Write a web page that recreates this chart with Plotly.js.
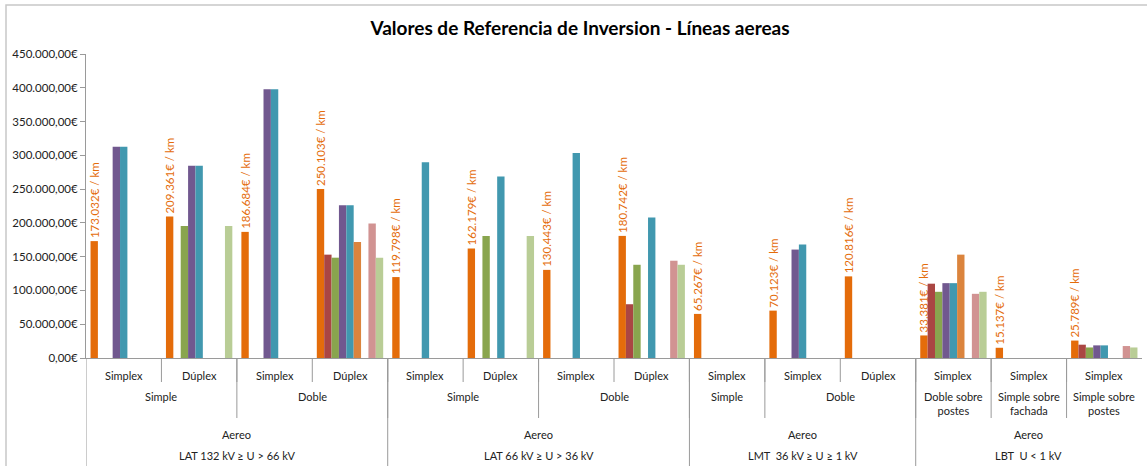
<!DOCTYPE html>
<html>
<head>
<meta charset="utf-8">
<script src="https://cdn.plot.ly/plotly-3.0.1.min.js"></script>
<style>
	html, body { margin: 0; padding: 0; background: #fff; }
	#chart { width: 1147px; height: 466px; }
</style>
</head>
<body>
<div id="chart"></div>
<script>
// leaf categories (bottom row) and their parent levels
const conductor = ["Simplex", "Dúplex", "Simplex", "Dúplex", "Simplex", "Dúplex", "Simplex", "Dúplex", "Simplex", "Simplex", "Dúplex", "Simplex", "Simplex", "Simplex"];
const circuito = ["Simple", "Simple", "Doble", "Doble", "Simple", "Simple", "Doble", "Doble", "Simple", "Doble", "Doble", "Doble sobre<br>postes", "Simple sobre<br>fachada", "Simple sobre<br>postes"];
const tipoLinea = ["Aereo", "Aereo", "Aereo", "Aereo", "Aereo", "Aereo", "Aereo", "Aereo", "Aereo", "Aereo", "Aereo", "Aereo", "Aereo", "Aereo"];
const tension = [
	"LAT 132 kV ≥ U &gt; 66 kV", "LAT 132 kV ≥ U &gt; 66 kV", "LAT 132 kV ≥ U &gt; 66 kV", "LAT 132 kV ≥ U &gt; 66 kV",
	"LAT 66 kV ≥ U &gt; 36 kV", "LAT 66 kV ≥ U &gt; 36 kV", "LAT 66 kV ≥ U &gt; 36 kV", "LAT 66 kV ≥ U &gt; 36 kV",
	"LMT\u00a0 36 kV ≥ U ≥ 1 kV", "LMT\u00a0 36 kV ≥ U ≥ 1 kV", "LMT\u00a0 36 kV ≥ U ≥ 1 kV",
	"LBT\u00a0 U &lt; 1 kV", "LBT\u00a0 U &lt; 1 kV", "LBT\u00a0 U &lt; 1 kV"
];

// series values (€/km), null = no bar
const serie1 = [173032, 209361, 186684, 250103, 119798, 162179, 130443, 180742, 65267, 70123, 120816, 33381, 15137, 25789];
const serie2 = [null, null, null, 153000, null, null, null, 79600, null, null, null, 110000, null, 19700];
const serie3 = [null, 195400, null, 148500, null, 180600, null, 138000, null, null, null, 98000, null, 15600];
const serie4 = [312700, 284500, 398000, 226000, null, null, null, null, null, 160500, null, 110800, null, 18700];
const serie5 = [312700, 284500, 398000, 226000, 289600, 268800, 303400, 208000, null, 168000, null, 110800, null, 18700];
const serie6 = [null, null, null, 171700, null, null, null, null, null, null, null, 153000, null, null];
const serie7 = [null, null, null, null, null, null, null, null, null, null, null, null, null, null];
const serie8 = [null, null, null, 199000, null, null, null, 144000, null, null, null, 95000, null, 17700];
const serie9 = [null, 195400, null, 148500, null, 180600, null, 138000, null, null, null, 98000, null, 15600];

const colores = ["#E46C0A", "#AA4643", "#89A54E", "#71588F", "#4198AF", "#DB843D", "#93A9CF", "#D19392", "#B9CD96"];
const series = [serie1, serie2, serie3, serie4, serie5, serie6, serie7, serie8, serie9];

const W = 1147, H = 466;
const m = { l: 86, r: 5, t: 54, b: 108 };
const plotH = H - m.t - m.b;
const plotW = W - m.l - m.r;
const py = p => (H - m.b - p) / plotH;   // pixel row -> paper y
const pxx = p => (p - m.l) / plotW;      // pixel col -> paper x

const font = "Lato, 'Open Sans', sans-serif";
const xs = conductor.map((_, i) => i);
const miles = v => String(v).replace(/\B(?=(\d{3})+(?!\d))/g, ".");

const traces = series.map((vals, k) => {
	const t = {
		x: xs,
		y: vals,
		type: "bar",
		name: "Serie " + (k + 1),
		marker: { color: colores[k] },
		hoverinfo: "y"
	};
	if (k === 0) {
		t.text = vals.map(v => miles(v) + "€ / km");
		t.textposition = "outside";
		t.textangle = -90;
		t.constraintext = "none";
		t.cliponaxis = false;
		t.outsidetextfont = { family: font, size: 11.5, color: "#E46C0A" };
	}
	return t;
});

// spans of consecutive equal keys
const spans = keys => {
	const out = [];
	keys.forEach((k, i) => {
		const last = out[out.length - 1];
		if (last && last.key === k) last.end = i;
		else out.push({ key: k, start: i, end: i });
	});
	return out;
};

const annotations = [];
const shapes = [];
const labelFont = { family: font, size: 11, color: "#222" };
const lineColor = "#9A9A9A";

conductor.forEach((c, i) => {
	annotations.push({ x: i, y: py(375), xref: "x", yref: "paper", text: c, showarrow: false, font: labelFont, yanchor: "middle" });
	if (i > 0) shapes.push({ type: "line", xref: "x", yref: "paper", x0: i - 0.5, x1: i - 0.5, y0: 0, y1: py(382), line: { color: lineColor, width: 1 } });
});

const nivel2 = spans(circuito.map((c, i) => tension[i] + "|" + c));
nivel2.forEach(s => {
	const txt = s.key.split("|")[1];
	const twoLines = txt.indexOf("<br>") >= 0;
	annotations.push({ x: (s.start + s.end) / 2, y: py(twoLines ? 403 : 396), xref: "x", yref: "paper", text: txt, showarrow: false, font: labelFont, yanchor: "middle" });
	if (s.start > 0) shapes.push({ type: "line", xref: "x", yref: "paper", x0: s.start - 0.5, x1: s.start - 0.5, y0: 0, y1: py(418), line: { color: lineColor, width: 1 } });
});

const nivel3 = spans(tension.map((t, i) => t + "|" + tipoLinea[i]));
nivel3.forEach(s => {
	const [ten, tipo] = s.key.split("|");
	const cx = (s.start + s.end) / 2;
	annotations.push({ x: cx, y: py(434), xref: "x", yref: "paper", text: tipo, showarrow: false, font: labelFont, yanchor: "middle" });
	annotations.push({ x: cx, y: py(455), xref: "x", yref: "paper", text: ten, showarrow: false, font: labelFont, yanchor: "middle" });
	shapes.push({ type: "line", xref: "x", yref: "paper", x0: s.start - 0.5, x1: s.start - 0.5, y0: 0, y1: py(H + 2), line: { color: lineColor, width: 1 } });
});

// outer chart frame
shapes.push({ type: "rect", xref: "paper", yref: "paper", x0: pxx(6), x1: pxx(W + 20), y0: py(H + 20), y1: py(5), line: { color: "#C8C8C8", width: 1.5 }, layer: "below" });

const layout = {
	width: W,
	height: H,
	margin: m,
	title: {
		text: "Valores de Referencia de Inversion - Líneas aereas",
		font: { family: font, size: 19, color: "#000", weight: "bold" },
		xref: "container",
		x: 580 / W,
		y: 1 - 28 / H,
		yanchor: "middle"
	},
	separators: ",.",
	barmode: "group",
	bargap: 0.12,
	bargroupgap: 0,
	showlegend: false,
	xaxis: {
		range: [-0.5, 13.5],
		showticklabels: false,
		showgrid: false,
		zeroline: false,
		showline: true,
		linecolor: lineColor,
		ticks: ""
	},
	yaxis: {
		range: [0, 450000],
		dtick: 50000,
		tickformat: ",.2f",
		ticksuffix: "€",
		showgrid: false,
		zeroline: false,
		showline: true,
		linecolor: lineColor,
		ticks: "outside",
		ticklen: 5,
		tickcolor: lineColor,
		tickfont: { family: font, size: 11.5, color: "#222" }
	},
	annotations: annotations,
	shapes: shapes,
	paper_bgcolor: "#fff",
	plot_bgcolor: "#fff"
};

Plotly.newPlot("chart", traces, layout, { displayModeBar: false, responsive: false });
</script>
</body>
</html>
